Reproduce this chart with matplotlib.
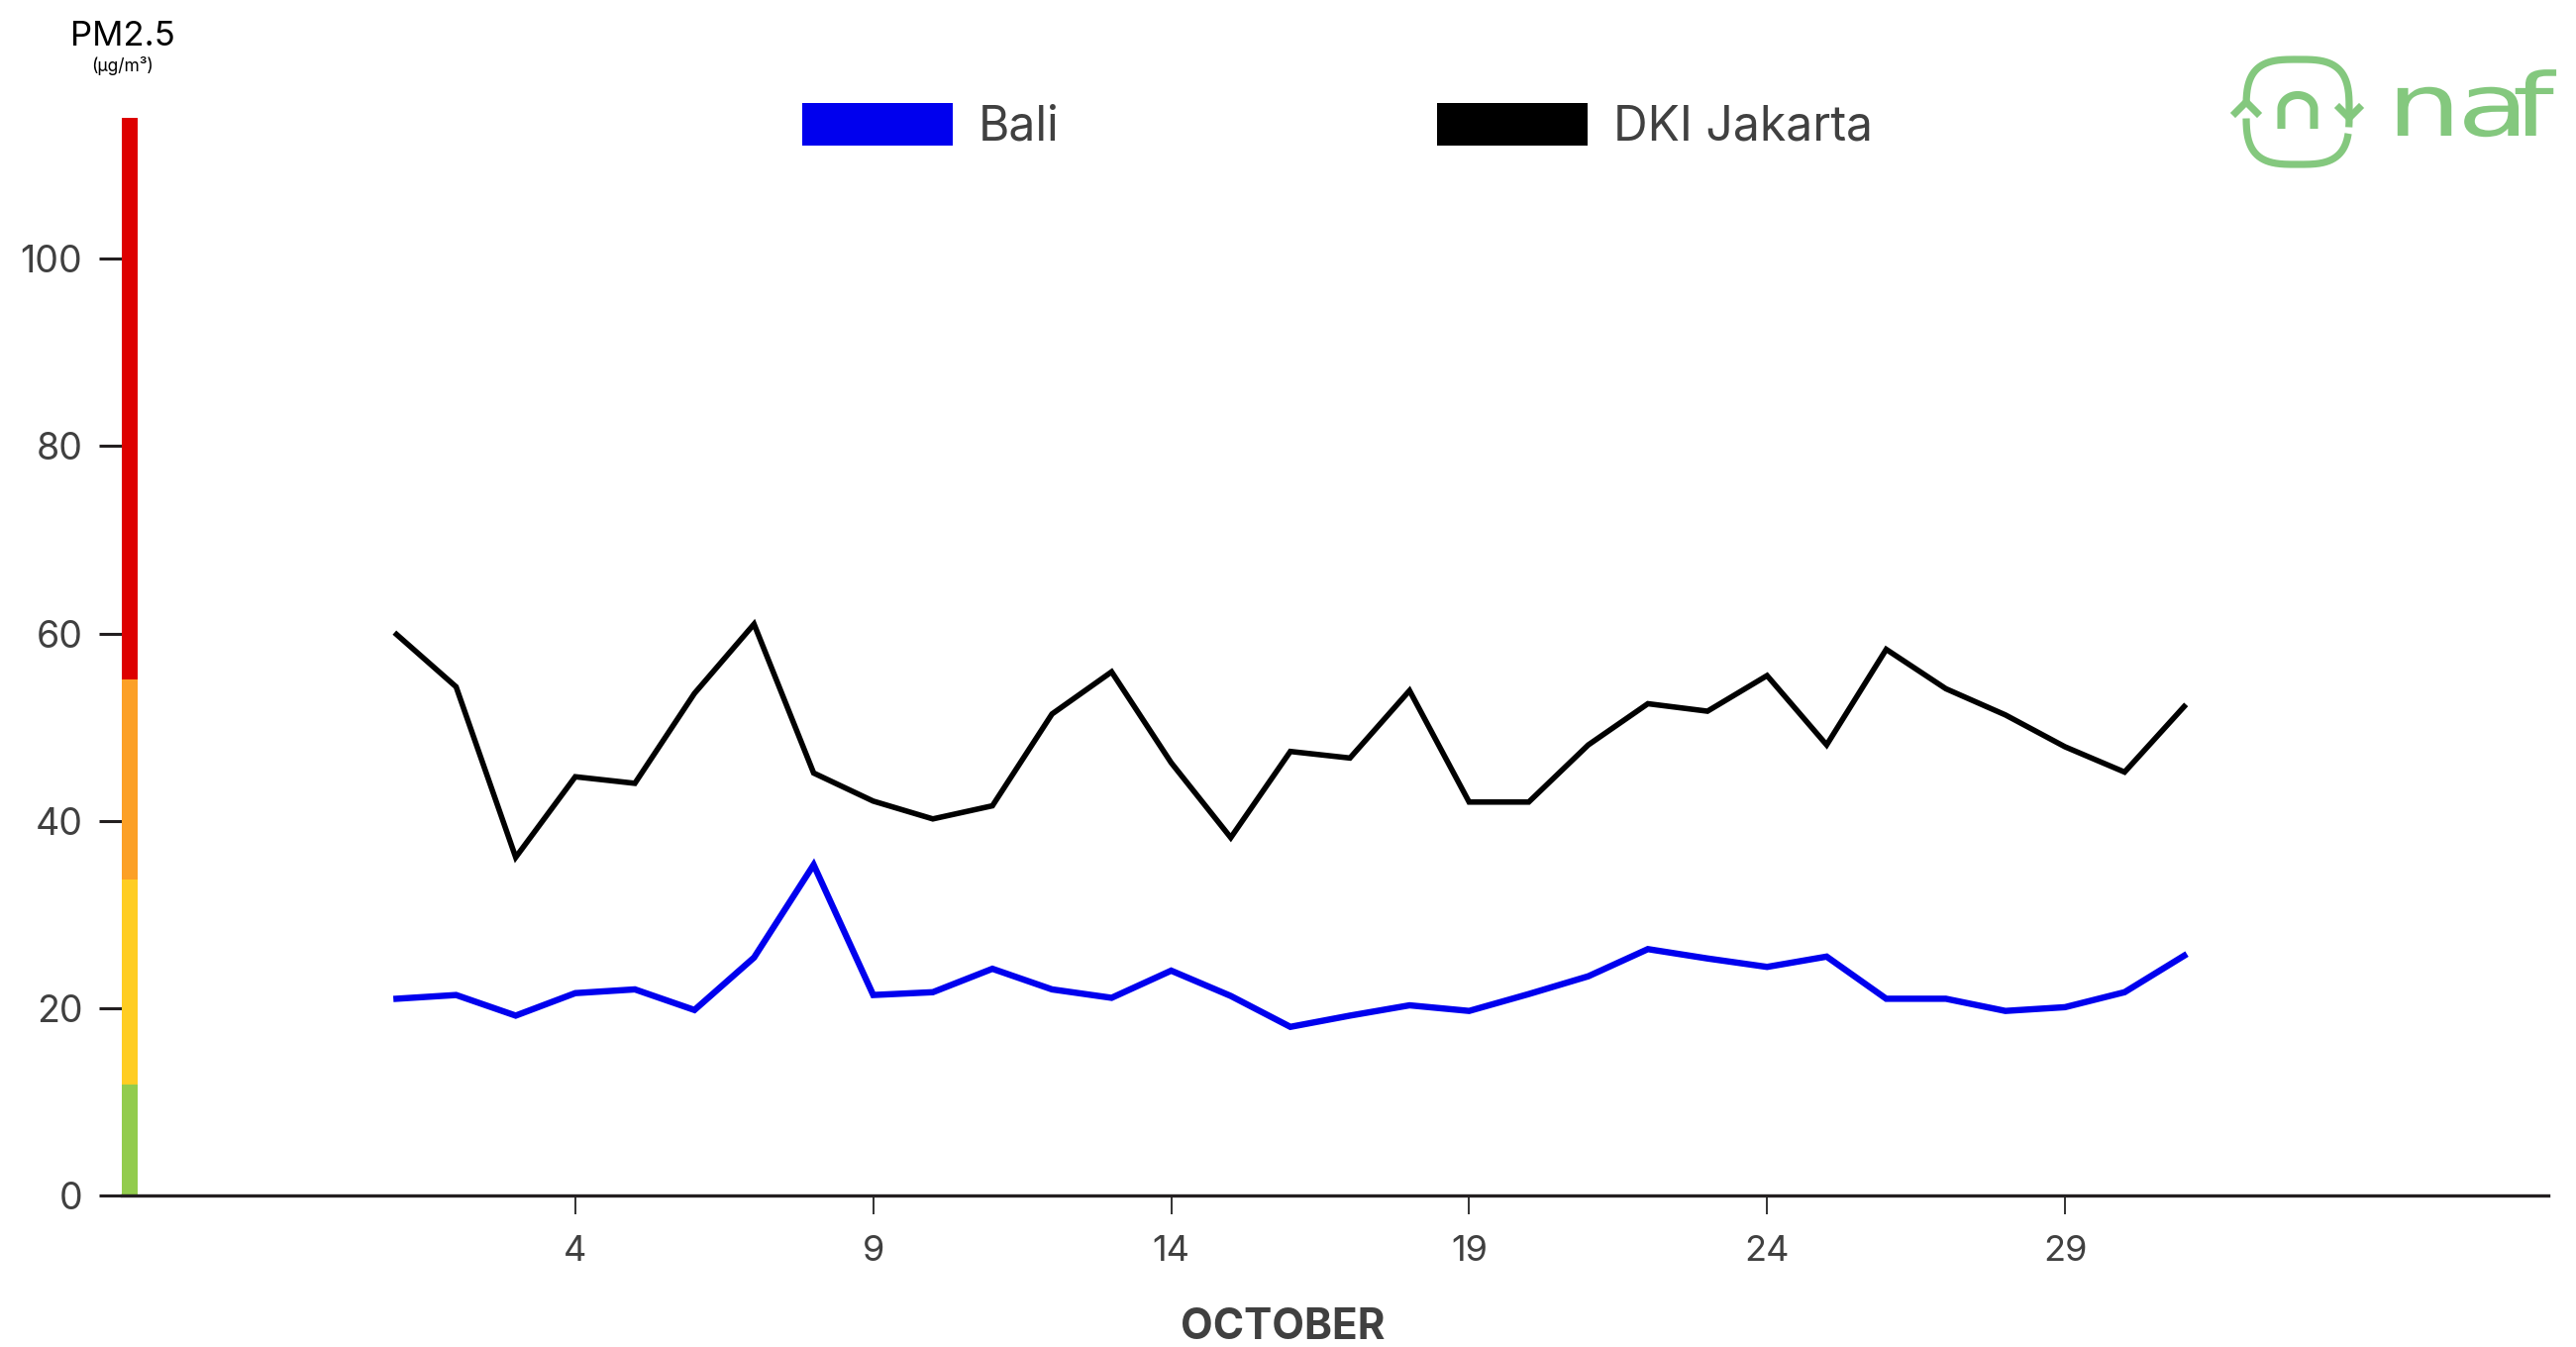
import numpy as np
import matplotlib
matplotlib.use("Agg")
import matplotlib.pyplot as plt
from matplotlib.patches import Rectangle, PathPatch
from matplotlib.textpath import TextPath
from matplotlib.font_manager import FontProperties
from matplotlib.transforms import Affine2D

plt.rcParams['font.family'] = ['Inter', 'DejaVu Sans']

# ---- data -------------------------------------------------------------
days = list(range(1, 32))
series_names = ["Bali", "DKI Jakarta"]
series_colors = ["#0000EE", "#000000"]
bali = [21.0, 21.4, 19.2, 21.6, 22.0, 19.8, 25.4, 35.3, 21.4, 21.7,
        24.2, 22.0, 21.1, 24.0, 21.3, 18.0, 19.2, 20.3, 19.7, 21.5,
        23.4, 26.3, 25.3, 24.4, 25.5, 21.0, 21.0, 19.7, 20.1, 21.7, 25.6]
jakarta = [59.9, 54.3, 36.1, 44.7, 44.0, 53.6, 61.0, 45.1, 42.1, 40.2,
           41.6, 51.4, 55.9, 46.2, 38.2, 47.4, 46.7, 53.9, 42.0, 42.0,
           48.1, 52.5, 51.7, 55.5, 48.1, 58.3, 54.1, 51.3, 47.9, 45.2, 52.2]
x_ticks = [4, 9, 14, 19, 24, 29]
y_ticks = [0, 20, 40, 60, 80, 100]
# PM2.5 category bands (lower, upper) and colours
band_edges = [0, 11.8, 33.7, 55.1, 115]
band_colors = ["#92CC4D", "#FFCD22", "#FCA026", "#DD0000"]
x_label = "OCTOBER"
y_title = "PM2.5"
y_unit = "(µg/m³)"
brand = "nafas"

# ---- figure -----------------------------------------------------------
W, H = 2601, 1360
fig = plt.figure(figsize=(W / 100, H / 100), dpi=100)
fig.patch.set_facecolor("white")

ax_left, ax_right, ax_bottom, ax_top = 123, 2573, 1207, 119.4
ax = fig.add_axes([ax_left / W, (H - ax_bottom) / H,
                   (ax_right - ax_left) / W, (ax_bottom - ax_top) / H])
ax.set_xlim(-3.61, 37.11)
ax.set_ylim(0, 115)

text_col = "#404040"
axis_col = "#231F20"

# category colour strip along the y axis
strip_w = 16 / (ax_right - ax_left)
trans = ax.get_yaxis_transform()
for lo, hi, c in zip(band_edges[:-1], band_edges[1:], band_colors):
    ax.add_patch(Rectangle((0, lo), strip_w, hi - lo, transform=trans,
                           facecolor=c, edgecolor="none", clip_on=False, zorder=3))

ax.plot(days, bali, color=series_colors[0], lw=4.6, solid_joinstyle="miter", zorder=4)
ax.plot(days, jakarta, color=series_colors[1], lw=4.0, solid_joinstyle="miter", zorder=4)

for s in ["top", "right", "left"]:
    ax.spines[s].set_visible(False)
ax.spines["bottom"].set_color(axis_col)
ax.spines["bottom"].set_linewidth(2.4)
ax.spines["bottom"].set_zorder(5)

ax.set_xticks(x_ticks)
ax.set_xticklabels([str(t) for t in x_ticks])
ax.set_yticks(y_ticks)
ax.set_yticklabels([str(t) for t in y_ticks])
ax.tick_params(axis="x", length=13.7, width=1.4, color="#333333", pad=15,
               labelsize=26, labelcolor=text_col)
ax.tick_params(axis="y", length=16.5, width=2.2, color=axis_col, pad=12,
               labelsize=27, labelcolor=text_col)

# ---- overlay in pixel coordinates: titles, legend, logo ---------------
ov = fig.add_axes([0, 0, 1, 1], facecolor="none")
ov.set_xlim(0, W)
ov.set_ylim(H, 0)
ov.axis("off")

ov.text(1295, 1340, x_label, ha="center", va="center", fontsize=30.5,
        fontweight="bold", color=text_col)
ov.text(124, 45.5, y_title, ha="center", va="baseline", fontsize=25, color="black")
ov.text(124, 72, y_unit, ha="center", va="baseline", fontsize=12.5, color="black")

legend_items = [(810, series_names[0], series_colors[0]),
                (1451, series_names[1], series_colors[1])]
for x0, name, col in legend_items:
    ov.add_patch(Rectangle((x0, 104), 152, 43, facecolor=col, edgecolor="none"))
    ov.text(x0 + 178, 141.5, name, ha="left", va="baseline", fontsize=34.5, color=text_col)

# logo
green = "#84C87E"
cx, cy, a, b, n = 2320, 113, 52, 53, 3.2


def squircle(t):
    c, s = np.cos(t), np.sin(t)
    return (cx + a * np.sign(c) * np.abs(c) ** (2 / n),
            cy - b * np.sign(s) * np.abs(s) ** (2 / n))


xs, ys = squircle(np.linspace(np.deg2rad(178), np.deg2rad(-8), 200))
ov.plot(xs, ys, color=green, lw=5.2, solid_capstyle="butt")
xs, ys = squircle(np.linspace(np.deg2rad(-14), np.deg2rad(-178), 200))
ov.plot(xs, ys, color=green, lw=5.2, solid_capstyle="butt")
# arrow heads
ov.plot([2257, 2268, 2279], [114, 103, 114], color=green, lw=5.2, solid_joinstyle="miter")
ov.plot([2362, 2372, 2382], [109, 119, 109], color=green, lw=5.2, solid_joinstyle="miter")
# inner "n"
th = np.linspace(np.pi, 0, 60)
nx = np.concatenate([[2303.5], 2320 + 16.5 * np.cos(th), [2336.5]])
ny = np.concatenate([[130], 110 - 14 * np.sin(th), [130]])
ov.plot(nx, ny, color=green, lw=5.8, solid_capstyle="butt")

# wordmark: widened glyph outlines, clipped by the figure edge
fp = FontProperties(family="DejaVu Sans")
for ch, xl in zip(brand, [2410, 2481, 2537, 2600, 2670]):
    tp = TextPath((0, 0), ch, size=88, prop=fp)
    tr = Affine2D().scale(1.35, -1.0).translate(xl, 137)
    ov.add_patch(PathPatch(tr.transform_path(tp), facecolor=green,
                           edgecolor="none", clip_on=False))

fig.savefig("out.png", dpi=100, facecolor="white")
